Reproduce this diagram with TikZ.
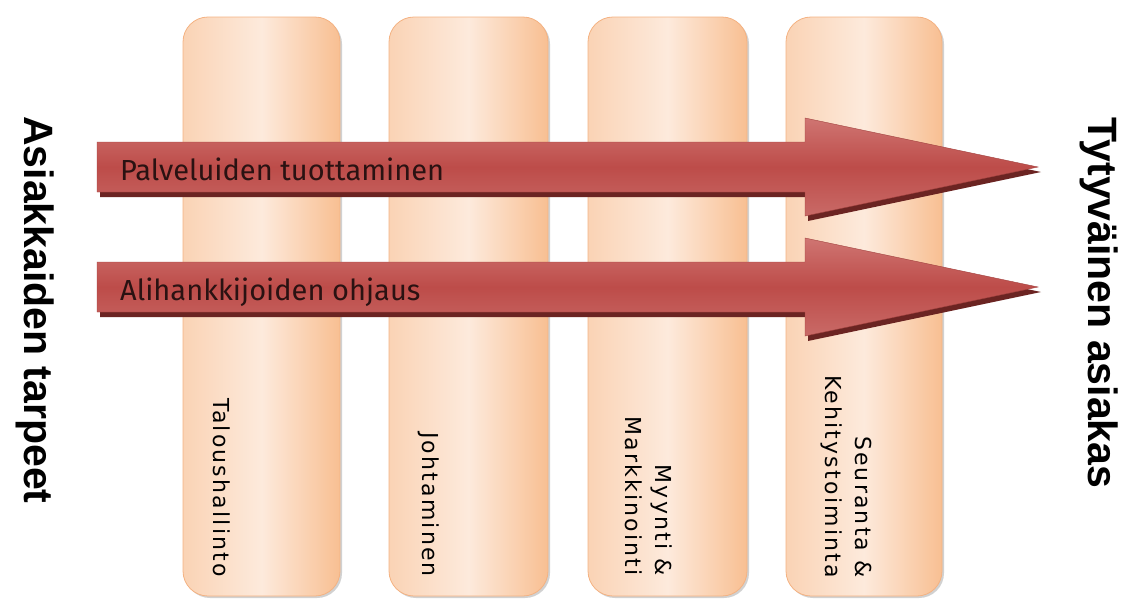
\documentclass[tikz,border=0pt]{standalone}
\usepackage{fontspec}
\setmainfont{DejaVu Sans}
\newfontfamily\arrowfont{Fira Sans}
\newfontfamily\labelfont{Liberation Sans}
\newfontfamily\pillarfont[LetterSpace=10]{DejaVu Sans}
\definecolor{pilEdge}{HTML}{F8BF92}
\definecolor{pilMid}{HTML}{FDEADC}
\definecolor{pilLeft}{HTML}{FAD3B5}
\definecolor{pilLine}{HTML}{F4B282}
\definecolor{arTop}{HTML}{CF7572}
\definecolor{arMid}{HTML}{BD4C49}
\definecolor{arBot}{HTML}{C96A67}
\definecolor{arShadow}{HTML}{6B2422}
\definecolor{arText}{HTML}{2A1212}
\begin{document}
\begin{tikzpicture}[x=1pt,y=-1pt,
  pillarshadow/.style={fill=black!18,rounded corners=25pt},
  pillar/.style={draw=pilLine,line width=0.8pt,rounded corners=25pt,
    left color=pilLeft,right color=pilEdge,middle color=pilMid},
  arrowshadow/.style={fill=arShadow},
  arrowbody/.style={top color=arTop,bottom color=arBot,middle color=arMid,
    draw=arMid!85!black,line width=0.4pt},
  arrowtext/.style={anchor=base west,inner sep=0pt,text=arText,
    font=\arrowfont\fontsize{29}{34}\selectfont},
  pillartext/.style={rotate=-90,anchor=east,inner sep=0pt,align=right,
    text=black,font=\pillarfont\fontsize{22}{30}\selectfont},
  sidelabel/.style={rotate=-90,inner sep=0pt,text=black,
    font=\labelfont\bfseries\fontsize{41}{46}\selectfont}]
\useasboundingbox (0,0) rectangle (1125,598);

% pillars
\foreach \l/\r in {183/340,389/548,588/747,786/942}{
  \fill[pillarshadow] (\l+2,19) rectangle (\r+2,598);
  \path[pillar] (\l,17) rectangle (\r,596);
}

% arrows
\foreach \c in {167,287}{
  \fill[arrowshadow,shift={(3,5)}] (97,\c-25) -- (805,\c-25) -- (805,\c-49)
    -- (1038,\c) -- (805,\c+49) -- (805,\c+25) -- (97,\c+25) -- cycle;
  \path[arrowbody] (97,\c-25) -- (805,\c-25) -- (805,\c-49)
    -- (1038,\c) -- (805,\c+49) -- (805,\c+25) -- (97,\c+25) -- cycle;
}

\node[arrowtext] (a1) at (120,180) {Palveluiden tuottaminen};
\node[arrowtext] (a2) at (120,300) {Alihankkijoiden ohjaus};

\node[pillartext] (p1) at (222,577) {Taloushallinto};
\node[pillartext] (p2) at (429,577) {Johtaminen};
\node[pillartext] (p3) at (649,576) {Myynti \&\\Markkinointi};
\node[pillartext] (p4) at (846,578) {Seuranta \&\\Kehitystoiminta};

\node[sidelabel] (need) at (35,310) {Asiakkaiden tarpeet};
\node[sidelabel] (sat) at (1099,303) {Tytyväinen asiakas};
\end{tikzpicture}
\end{document}
